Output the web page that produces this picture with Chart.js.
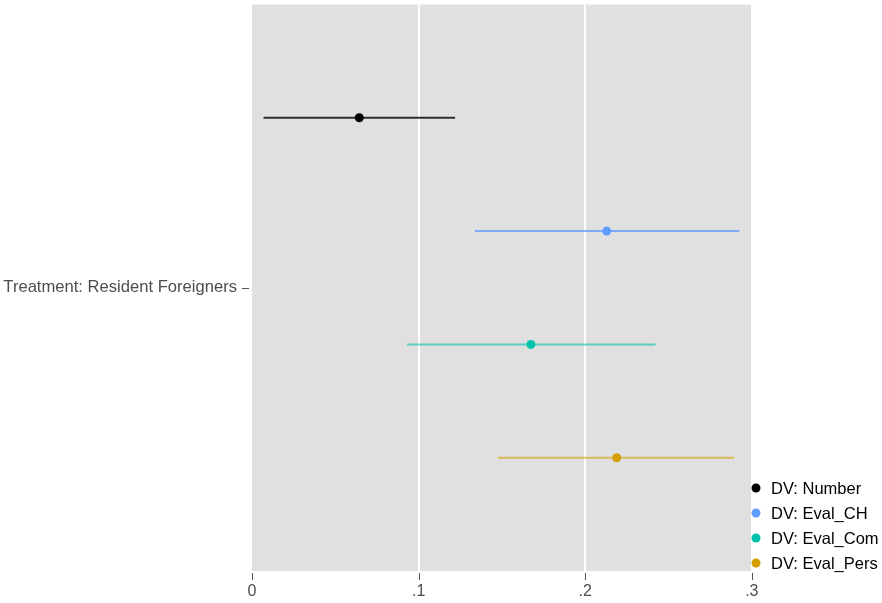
<!DOCTYPE html>
<html>
<head>
<meta charset="utf-8">
<script src="https://cdn.jsdelivr.net/npm/chart.js@4.4.0/dist/chart.umd.min.js"></script>
<style>
  html, body { margin: 0; padding: 0; background: #fff; }
  #wrap { width: 882px; height: 603px; }
</style>
</head>
<body>
<div id="wrap"><canvas id="coefChart" width="882" height="603"></canvas></div>
<script>
// one term, four dependent variables (dodged vertically)
const term = 'Treatment: Resident Foreigners';
const series = ['DV: Number', 'DV: Eval_CH', 'DV: Eval_Com', 'DV: Eval_Pers'];
const estimates = [0.0644, 0.2129, 0.1674, 0.2189];
const lower = [0.0069, 0.1338, 0.0931, 0.1476];
const upper = [0.1219, 0.2925, 0.2422, 0.2895];
const dodge = [0.7, 0.9, 1.1, 1.3];
const xTicks = [0, 0.1, 0.2, 0.3];
const xTickLabels = ['0', '.1', '.2', '.3'];

const pointColors = ['#000000', '#619cff', '#00c2ad', '#d39e00'];
const lineColors = ['rgba(0,0,0,0.8)', 'rgba(97,156,255,0.8)', 'rgba(0,194,173,0.6)', 'rgba(211,158,0,0.6)'];
const fontFamily = '"Liberation Sans", Arial, sans-serif';

const datasets = [];
series.forEach((name, i) => {
  datasets.push({
    type: 'line',
    label: name + ' CI',
    data: [{x: lower[i], y: dodge[i]}, {x: upper[i], y: dodge[i]}],
    borderColor: lineColors[i],
    borderWidth: 2,
    pointRadius: 0,
    showLine: true
  });
});
series.forEach((name, i) => {
  datasets.push({
    type: 'scatter',
    label: name,
    data: [{x: estimates[i], y: dodge[i]}],
    backgroundColor: pointColors[i],
    borderColor: pointColors[i],
    pointRadius: 4.5,
    borderWidth: 0
  });
});

const panelBg = {
  id: 'panelBg',
  beforeDraw(chart) {
    const {ctx, chartArea: a} = chart;
    ctx.save();
    ctx.fillStyle = '#e0e0e0';
    ctx.fillRect(a.left, a.top, a.right - a.left, a.bottom - a.top);
    ctx.restore();
  }
};

const sideLegend = {
  id: 'sideLegend',
  afterDraw(chart) {
    const ctx = chart.ctx;
    ctx.save();
    ctx.font = '16.5px ' + fontFamily;
    ctx.textBaseline = 'middle';
    series.forEach((name, i) => {
      const y = 488 + i * 25;
      ctx.fillStyle = pointColors[i];
      ctx.beginPath();
      ctx.arc(756, y, 4.5, 0, Math.PI * 2);
      ctx.fill();
      ctx.fillStyle = '#000';
      ctx.fillText(name, 771, y + 1);
    });
    ctx.restore();
  }
};

const tickMarks = {
  id: 'tickMarks',
  afterDraw(chart) {
    const {ctx, scales: {x, y}, chartArea: a} = chart;
    ctx.save();
    ctx.strokeStyle = '#555';
    ctx.lineWidth = 1;
    xTicks.forEach(v => {
      const px = Math.round(x.getPixelForValue(v)) + 0.5;
      ctx.beginPath();
      ctx.moveTo(px, a.bottom + 2);
      ctx.lineTo(px, a.bottom + 9);
      ctx.stroke();
    });
    const py = Math.round(y.getPixelForValue(1)) + 0.5;
    ctx.beginPath();
    ctx.moveTo(a.left - 10, py);
    ctx.lineTo(a.left - 3, py);
    ctx.stroke();
    ctx.restore();
  }
};

new Chart(document.getElementById('coefChart'), {
  type: 'scatter',
  data: { datasets },
  options: {
    responsive: false,
    animation: false,
    layout: { padding: { top: 3, right: 131, left: 0, bottom: 0 } },
    plugins: { legend: { display: false }, tooltip: { enabled: false } },
    scales: {
      x: {
        type: 'linear',
        min: 0,
        max: 0.2995,
        afterBuildTicks: (axis) => { axis.ticks = xTicks.map(v => ({value: v})); },
        afterFit: (axis) => { axis.height = 32; axis.paddingLeft = 0; axis.paddingRight = 0; },
        ticks: {
          autoSkip: false,
          maxRotation: 0,
          color: '#4d4d4d',
          font: { size: 16, family: fontFamily },
          padding: 11,
          callback: (v) => xTickLabels[xTicks.indexOf(v)]
        },
        grid: {
          color: (c) => (c.tick && c.tick.value > 0 && c.tick.value < 0.3) ? '#ffffff' : 'rgba(0,0,0,0)',
          lineWidth: 2,
          drawTicks: false
        },
        border: { display: false }
      },
      y: {
        type: 'linear',
        min: 0.5,
        max: 1.5,
        reverse: true,
        afterBuildTicks: (axis) => { axis.ticks = [{value: 1}]; },
        afterFit: (axis) => { axis.width = 252; axis.paddingTop = 0; axis.paddingBottom = 0; },
        ticks: {
          color: '#4d4d4d',
          font: { size: 16.6, family: fontFamily },
          padding: 15,
          callback: () => term
        },
        grid: { drawOnChartArea: false, drawTicks: false },
        border: { display: false }
      }
    }
  },
  plugins: [panelBg, sideLegend, tickMarks]
});
</script>
</body>
</html>
